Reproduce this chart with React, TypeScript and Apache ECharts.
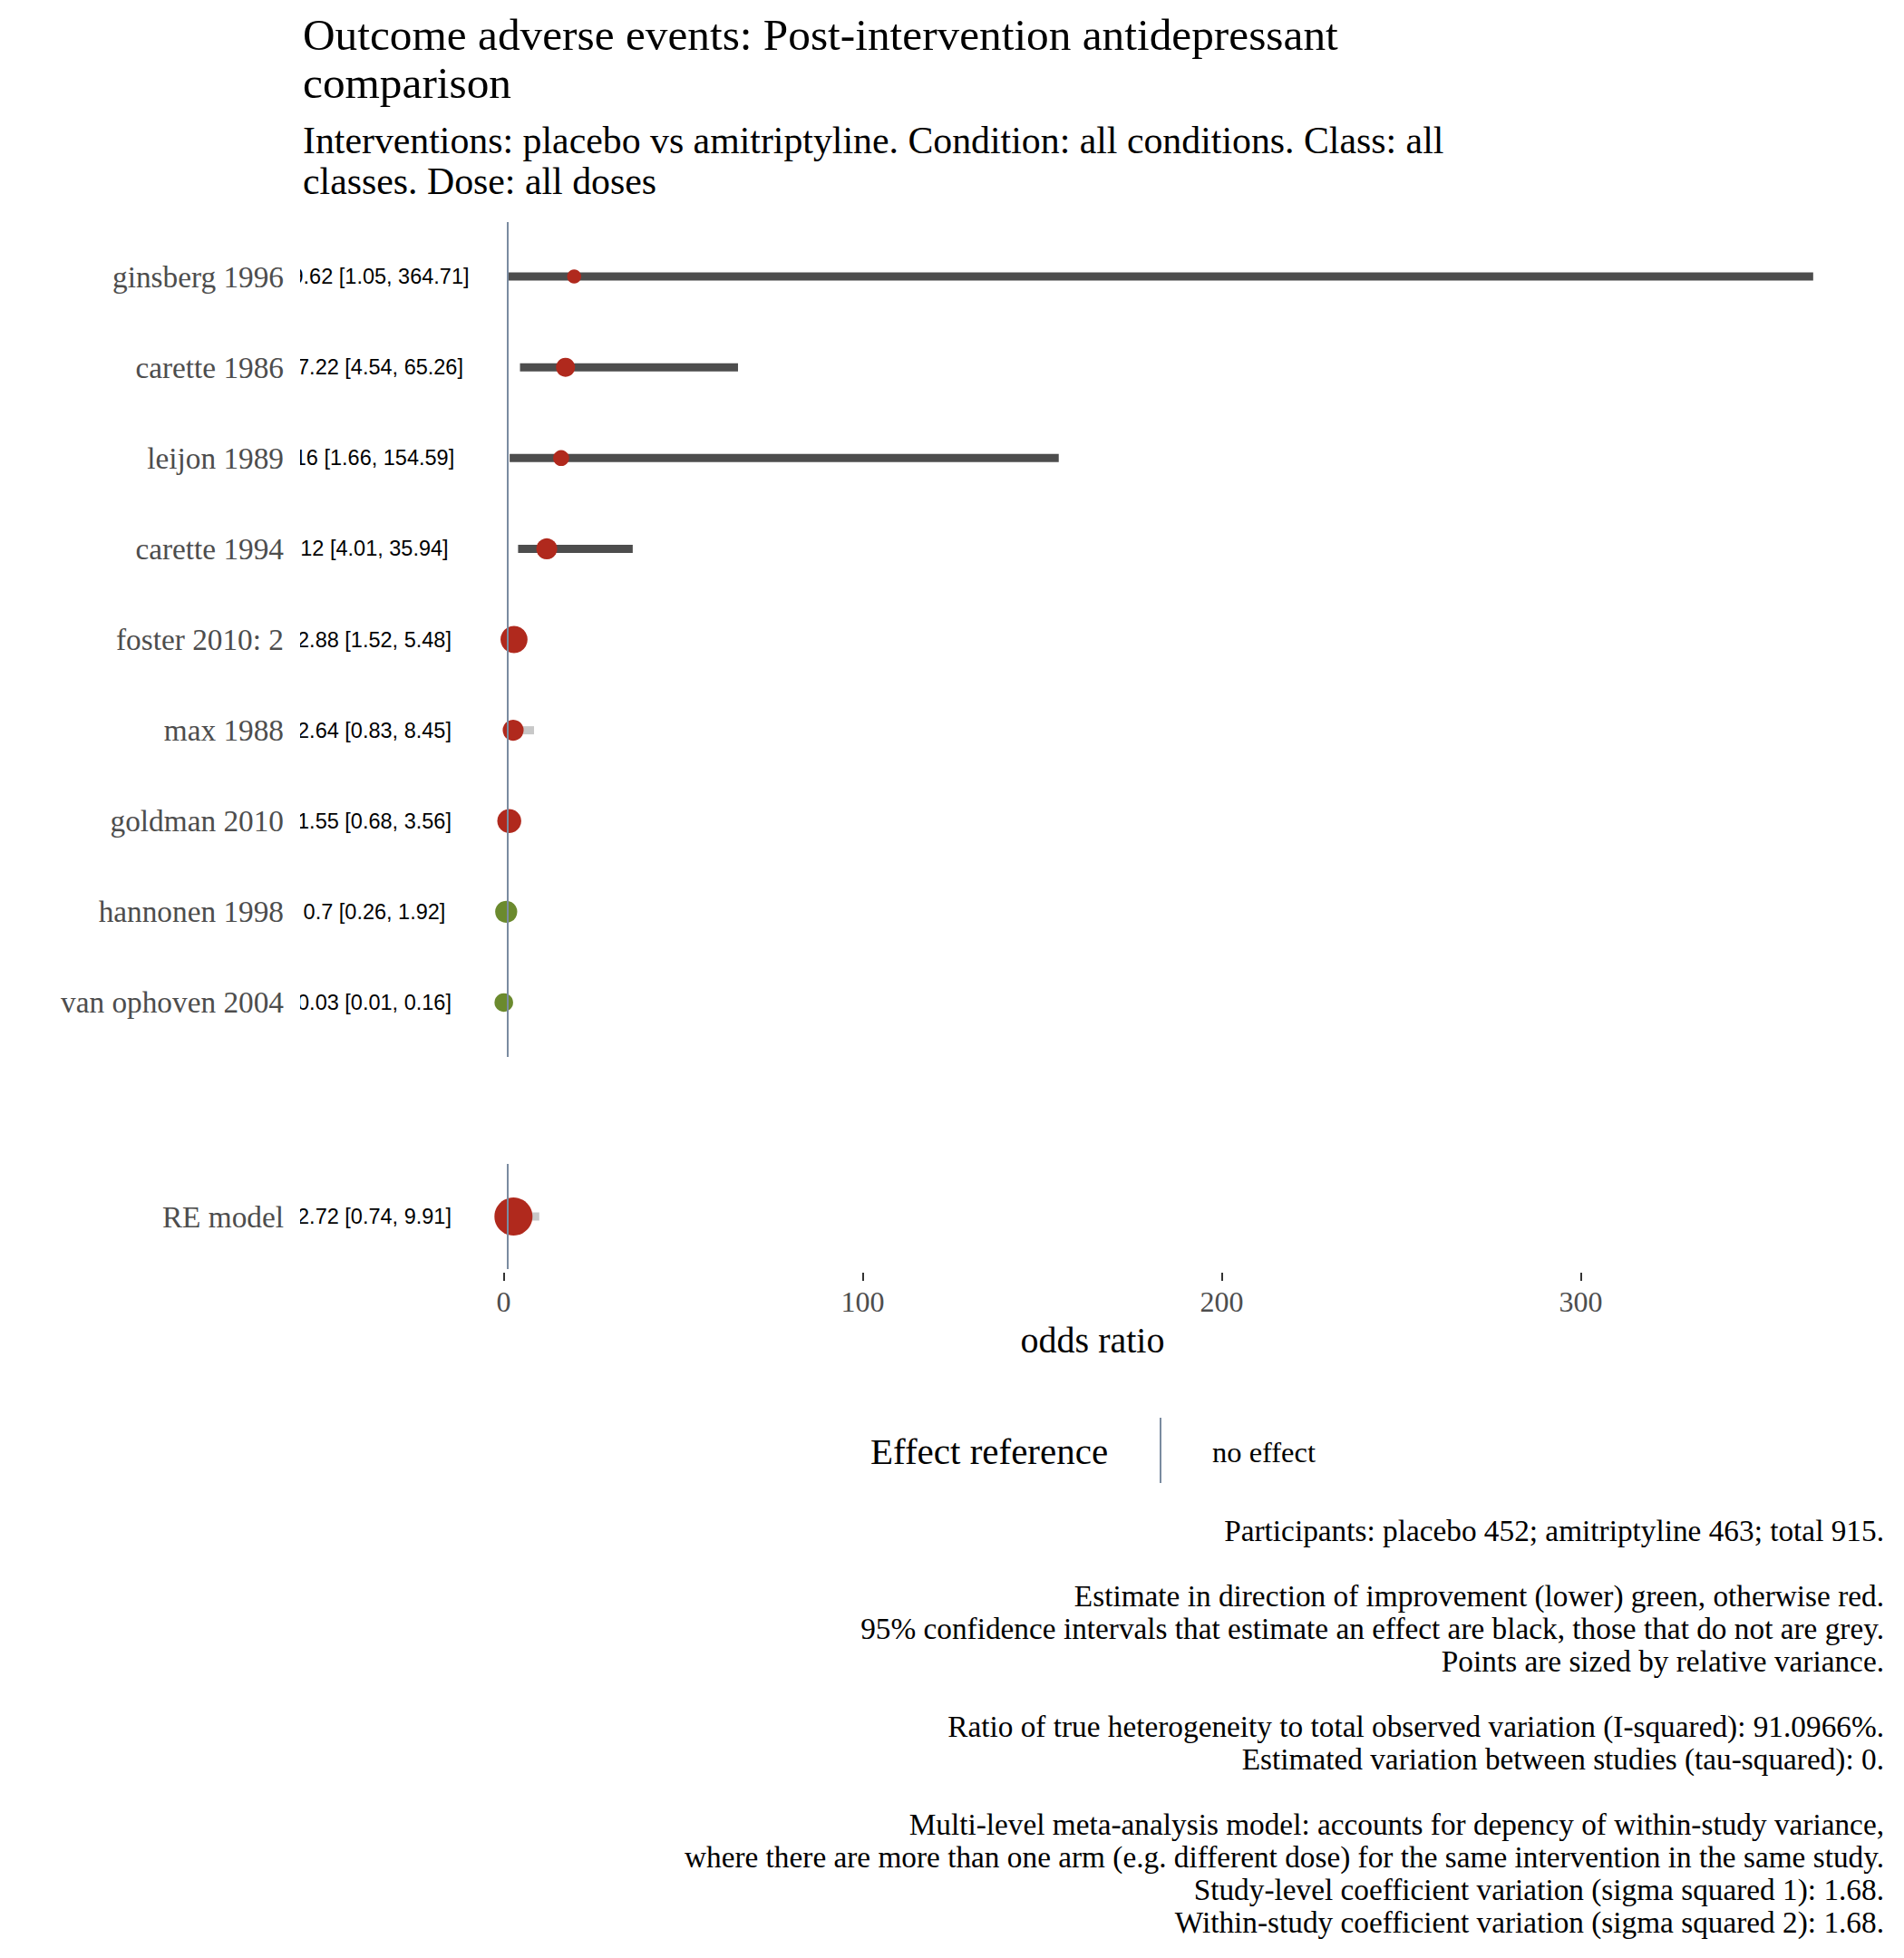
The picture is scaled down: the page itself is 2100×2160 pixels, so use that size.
import React, { useEffect, useRef } from "react";
import * as echarts from "echarts";

// ---- data ----
const studies = [
  "ginsberg 1996",
  "carette 1986",
  "leijon 1989",
  "carette 1994",
  "foster 2010: 2",
  "max 1988",
  "goldman 2010",
  "hannonen 1998",
  "van ophoven 2004",
];
const estimates = [19.62, 17.22, 16, 12, 2.88, 2.64, 1.55, 0.7, 0.03];
const lowers = [1.05, 4.54, 1.66, 4.01, 1.52, 0.83, 0.68, 0.26, 0.01];
const uppers = [364.71, 65.26, 154.59, 35.94, 5.48, 8.45, 3.56, 1.92, 0.16];
const weights = [0.37, 0.5, 0.42, 0.55, 0.71, 0.55, 0.63, 0.58, 0.49];

const summaryNames = ["RE model"];
const summaryEstimates = [2.72];
const summaryLowers = [0.74];
const summaryUppers = [9.91];
const summaryWeights = [1.0];

const xTicks = [0, 100, 200, 300];
const noEffect = 1;

const titleText = "Outcome adverse events: Post-intervention antidepressant\ncomparison";
const subtitleText =
  "Interventions: placebo vs amitriptyline. Condition: all conditions. Class: all\nclasses. Dose: all doses";
const captionLines = [
  "Participants: placebo 452; amitriptyline 463; total 915.",
  "",
  "Estimate in direction of improvement (lower) green, otherwise red.",
  "95% confidence intervals that estimate an effect are black, those that do not are grey.",
  "Points are sized by relative variance.",
  "",
  "Ratio of true heterogeneity to total observed variation (I-squared): 91.0966%.",
  "Estimated variation between studies (tau-squared): 0.",
  "",
  "Multi-level meta-analysis model: accounts for depency of within-study variance,",
  "where there are more than one arm (e.g. different dose) for the same intervention in the same study.",
  "Study-level coefficient variation (sigma squared 1): 1.68.",
  "Within-study coefficient variation (sigma squared 2): 1.68.",
];

// ---- style constants ----
const SERIF = "'Liberation Serif', 'DejaVu Serif', serif";
const SANS = "'Liberation Sans', Arial, sans-serif";
const RED = "#B0291D";
const GREEN = "#6B8A2E";
const DARK = "#4D4D4D";
const LIGHT = "#C8C8C8";
const REFCOL = "#7A8BA0";
const X_MIN = -56.7;
const X_MAX = 384.7;
const LABEL_X = -36;
const MAX_DOT = 42;

function fmt(e: number, l: number, u: number) {
  return `${e} [${l}, ${u}]`;
}

function buildPanel(
  gridIndex: number,
  names: string[],
  est: number[],
  lo: number[],
  hi: number[],
  w: number[]
) {
  const ciTexts = names.map((_, i) => fmt(est[i], lo[i], hi[i]));
  const ciSeries = {
    type: "custom",
    xAxisIndex: gridIndex,
    yAxisIndex: gridIndex,
    silent: true,
    z: 2,
    clip: true,
    data: names.map((_, i) => [lo[i], hi[i], i]),
    encode: { x: [0, 1], y: 2 },
    renderItem: (params: any, api: any) => {
      const l = api.value(0);
      const h = api.value(1);
      const idx = api.value(2);
      const p1 = api.coord([l, idx]);
      const p2 = api.coord([h, idx]);
      const effect = l > noEffect || h < noEffect;
      return {
        type: "rect",
        shape: { x: p1[0], y: p1[1] - 4.5, width: p2[0] - p1[0], height: 9 },
        style: { fill: effect ? DARK : LIGHT },
      };
    },
    markLine: {
      silent: true,
      symbol: ["none", "none"],
      label: { show: false },
      lineStyle: { color: REFCOL, width: 2, type: "solid" },
      data: [{ xAxis: noEffect }],
    },
  };
  const dotSeries = {
    type: "scatter",
    xAxisIndex: gridIndex,
    yAxisIndex: gridIndex,
    silent: true,
    z: 3,
    data: names.map((_, i) => ({
      value: [est[i], i],
      symbolSize: MAX_DOT * w[i],
      itemStyle: { color: est[i] < noEffect ? GREEN : RED, opacity: 1 },
    })),
  };
  const textSeries = {
    type: "custom",
    xAxisIndex: gridIndex,
    yAxisIndex: gridIndex,
    silent: true,
    z: 4,
    clip: true,
    data: names.map((_, i) => [LABEL_X, i]),
    encode: { x: 0, y: 1 },
    renderItem: (params: any, api: any) => {
      const p = api.coord([api.value(0), api.value(1)]);
      return {
        type: "text",
        x: p[0],
        y: p[1],
        style: {
          text: ciTexts[params.dataIndex],
          align: "center",
          verticalAlign: "middle",
          fontFamily: SANS,
          fontSize: 23.5,
          fill: "#000",
        },
      };
    },
  };
  return [ciSeries, dotSeries, textSeries];
}

export default function App() {
  const ref = useRef<HTMLDivElement>(null);
  useEffect(() => {
    document.body.style.margin = "0";
    if (!ref.current) return;
    const chart = echarts.init(ref.current, undefined, { renderer: "svg" });

    const yLabelStyle = {
      fontFamily: SERIF,
      fontSize: 33.3,
      color: "#4D4D4D",
      margin: 18,
    };

    const option: any = {
      animation: false,
      backgroundColor: "#fff",
      title: {
        text: titleText,
        subtext: subtitleText,
        left: 334,
        top: 12,
        padding: 0,
        itemGap: 14,
        textStyle: {
          fontFamily: SERIF,
          fontSize: 49.3,
          fontWeight: "normal",
          color: "#000",
          lineHeight: 53,
        },
        subtextStyle: {
          fontFamily: SERIF,
          fontSize: 41.8,
          color: "#000",
          lineHeight: 45,
        },
      },
      grid: [
        { left: 331, right: 21, top: 245, height: 921 },
        { left: 331, right: 21, top: 1284, height: 116 },
      ],
      xAxis: [
        {
          gridIndex: 0,
          type: "value",
          min: X_MIN,
          max: X_MAX,
          show: false,
          splitLine: { show: false },
        },
        {
          gridIndex: 1,
          type: "value",
          min: X_MIN,
          max: X_MAX,
          position: "bottom",
          offset: 4,
          name: "odds ratio",
          nameLocation: "middle",
          nameGap: 54,
          nameTextStyle: { fontFamily: SERIF, fontSize: 40, color: "#000" },
          axisLine: { show: false, onZero: false },
          splitLine: { show: false },
          axisTick: {
            show: true,
            customValues: xTicks,
            length: 9,
            lineStyle: { color: "#333", width: 2 },
          },
          axisLabel: {
            customValues: xTicks,
            fontFamily: SERIF,
            fontSize: 32,
            color: "#4D4D4D",
            margin: 16,
          },
        },
      ],
      yAxis: [
        {
          gridIndex: 0,
          type: "value",
          min: -0.6,
          max: studies.length - 1 + 0.6,
          inverse: true,
          axisLine: { show: false, onZero: false },
          axisTick: { show: false },
          splitLine: { show: false },
          axisLabel: {
            ...yLabelStyle,
            customValues: studies.map((_, i) => i),
            formatter: (v: number) => studies[Math.round(v)] ?? "",
          },
        },
        {
          gridIndex: 1,
          type: "value",
          min: -0.6,
          max: 0.6,
          inverse: true,
          axisLine: { show: false, onZero: false },
          axisTick: { show: false },
          splitLine: { show: false },
          axisLabel: {
            ...yLabelStyle,
            customValues: [0],
            formatter: (v: number) => summaryNames[Math.round(v)] ?? "",
          },
        },
      ],
      series: [
        ...buildPanel(0, studies, estimates, lowers, uppers, weights),
        ...buildPanel(
          1,
          summaryNames,
          summaryEstimates,
          summaryLowers,
          summaryUppers,
          summaryWeights
        ),
      ],
      graphic: [
        {
          type: "text",
          left: 960,
          top: 1580,
          style: {
            text: "Effect reference",
            fontFamily: SERIF,
            fontSize: 41,
            fill: "#000",
          },
        },
        {
          type: "line",
          shape: { x1: 1280, y1: 1564, x2: 1280, y2: 1636 },
          style: { stroke: REFCOL, lineWidth: 2 },
        },
        {
          type: "text",
          left: 1337,
          top: 1585,
          style: {
            text: "no effect",
            fontFamily: SERIF,
            fontSize: 32.5,
            fill: "#000",
          },
        },
        {
          type: "text",
          x: 2078,
          y: 1670,
          style: {
            text: captionLines.join("\n"),
            fontFamily: SERIF,
            fontSize: 33.3,
            lineHeight: 36,
            align: "right",
            verticalAlign: "top",
            fill: "#000",
          },
        },
      ],
    };
    chart.setOption(option);
    return () => chart.dispose();
  }, []);
  return <div ref={ref} style={{ width: 2100, height: 2160 }} />;
}
